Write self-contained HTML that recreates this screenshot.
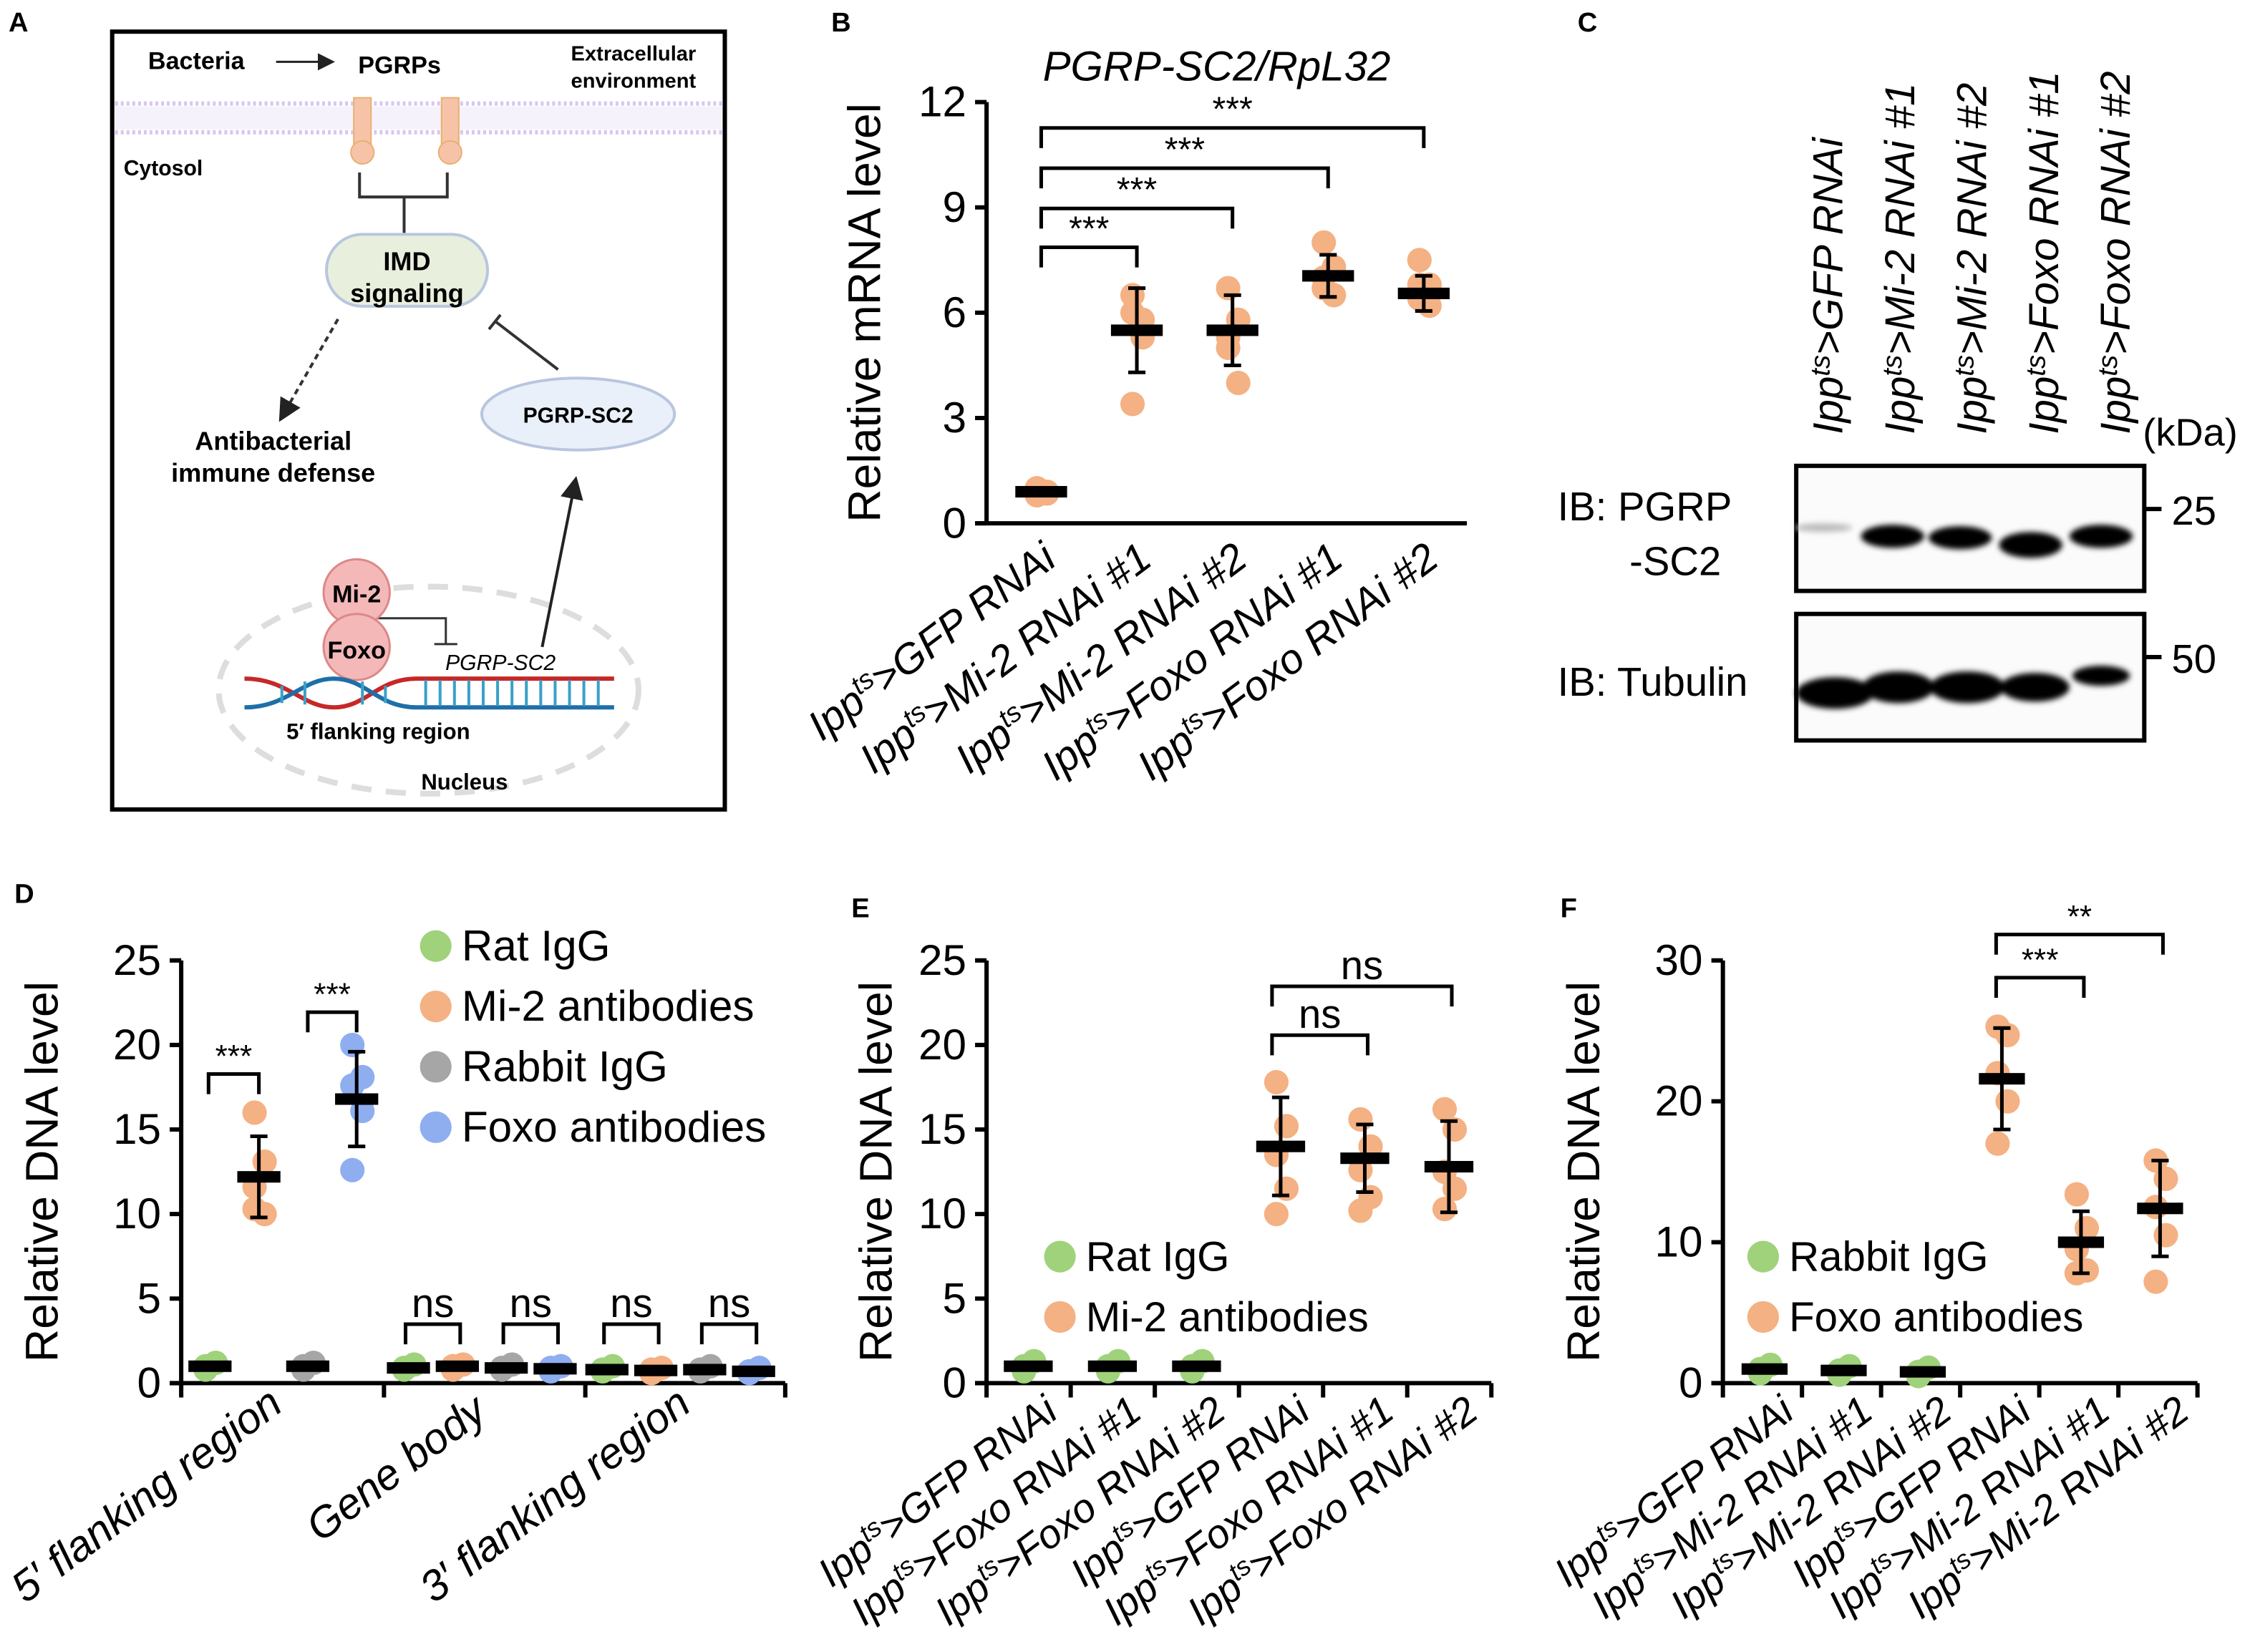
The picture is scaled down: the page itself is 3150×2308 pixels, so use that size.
<!DOCTYPE html>
<html><head><meta charset="utf-8"><style>
html,body{margin:0;padding:0;background:#fff;}
svg{display:block;}
text{font-family:"Liberation Sans",sans-serif;fill:#000;}
.b{font-family:"Liberation Sans",sans-serif;font-weight:bold;}
</style></head><body>
<svg id="fig" width="3150" height="2308" viewBox="0 0 1568 1149" preserveAspectRatio="none" xmlns="http://www.w3.org/2000/svg">
<defs>
<filter id="blur2" x="-20%" y="-50%" width="140%" height="200%"><feGaussianBlur stdDeviation="2"/></filter>
<marker id="arr" markerWidth="8" markerHeight="8" refX="6" refY="4" orient="auto"><path d="M0,0 L8,4 L0,8 z" fill="#222"/></marker>
</defs>

<text class="b" x="6" y="22" font-size="19">A</text>
<text class="b" x="578" y="22" font-size="19">B</text>
<text class="b" x="1097" y="22" font-size="19">C</text>
<text class="b" x="10" y="628" font-size="19">D</text>
<text class="b" x="592" y="638" font-size="19">E</text>
<text class="b" x="1085" y="638" font-size="19">F</text>

<g>
<rect x="78" y="22" width="426" height="541" fill="#fff" stroke="#000" stroke-width="3"/>
<rect x="80" y="74" width="422" height="16" fill="#f6f2fb"/>
<line x1="80" y1="72" x2="502" y2="72" stroke="#d7c8ef" stroke-width="3" stroke-dasharray="2,2"/>
<line x1="80" y1="92" x2="502" y2="92" stroke="#d7c8ef" stroke-width="3" stroke-dasharray="2,2"/>
<text class="b" x="103" y="48" font-size="17">Bacteria</text>
<line x1="192" y1="43" x2="230" y2="43" stroke="#222" stroke-width="1.5" marker-end="url(#arr)"/>
<text class="b" x="249" y="51" font-size="17">PGRPs</text>
<text class="b" x="397" y="42" font-size="14.5">Extracellular</text>
<text class="b" x="397" y="61" font-size="14.5">environment</text>
<text class="b" x="86" y="122" font-size="15">Cytosol</text>
<rect x="246" y="68" width="12" height="32" fill="#f7c3a8" stroke="#e8b070"/>
<circle cx="252" cy="106" r="8" fill="#f7c3a8" stroke="#e8b070"/>
<rect x="307" y="68" width="12" height="32" fill="#f7c3a8" stroke="#e8b070"/>
<circle cx="313" cy="106" r="8" fill="#f7c3a8" stroke="#e8b070"/>
<path d="M250,120 V137 H311 V120 M281,137 V162" fill="none" stroke="#333" stroke-width="2"/>
<rect x="227" y="163" width="112" height="50" rx="25" fill="#e9efdd" stroke="#b8c6de" stroke-width="2"/>
<text class="b" x="283" y="188" font-size="18" text-anchor="middle">IMD</text>
<text class="b" x="283" y="210" font-size="18" text-anchor="middle">signaling</text>
<line x1="235" y1="222" x2="196" y2="290" stroke="#333" stroke-width="2" stroke-dasharray="4,3" marker-end="url(#arr)"/>
<text class="b" x="190" y="313" font-size="18" text-anchor="middle">Antibacterial</text>
<text class="b" x="190" y="335" font-size="18" text-anchor="middle">immune defense</text>
<line x1="388" y1="257" x2="345" y2="224" stroke="#333" stroke-width="2"/>
<line x1="340" y1="229" x2="348" y2="219" stroke="#333" stroke-width="2"/>
<ellipse cx="402" cy="288" rx="67" ry="25" fill="#eaf0fa" stroke="#b8c6de" stroke-width="2"/>
<text class="b" x="402" y="294" font-size="15" text-anchor="middle">PGRP-SC2</text>
<ellipse cx="298" cy="480" rx="146" ry="72" fill="none" stroke="#ddd" stroke-width="4" stroke-dasharray="14,10"/>
<line x1="377" y1="450" x2="400" y2="335" stroke="#222" stroke-width="2" marker-end="url(#arr)"/>
<path d="M250,430 H310 V448 M302,448 H318" fill="none" stroke="#333" stroke-width="1.5"/>
<circle cx="248" cy="412" r="23" fill="#f4b8b8" stroke="#d88" stroke-width="1.5"/>
<text class="b" x="248" y="419" font-size="17" text-anchor="middle">Mi-2</text>
<circle cx="248" cy="450" r="23" fill="#f4b8b8" stroke="#d88" stroke-width="1.5"/>
<text class="b" x="248" y="458" font-size="17" text-anchor="middle">Foxo</text>
<text x="348" y="466" font-size="15" font-style="italic" text-anchor="middle">PGRP-SC2</text>
<path d="M170,472 C200,472 210,492 232,492 C255,492 262,472 290,472 H427" fill="none" stroke="#c62828" stroke-width="3"/>
<path d="M170,492 C200,492 210,472 232,472 C255,472 262,492 290,492 H427" fill="none" stroke="#1e6fa8" stroke-width="3"/>
<g stroke="#3aa0c8" stroke-width="2">
<line x1="296" y1="473" x2="296" y2="491"/><line x1="306" y1="473" x2="306" y2="491"/><line x1="316" y1="473" x2="316" y2="491"/><line x1="326" y1="473" x2="326" y2="491"/><line x1="336" y1="473" x2="336" y2="491"/><line x1="346" y1="473" x2="346" y2="491"/><line x1="356" y1="473" x2="356" y2="491"/><line x1="366" y1="473" x2="366" y2="491"/><line x1="376" y1="473" x2="376" y2="491"/><line x1="386" y1="473" x2="386" y2="491"/><line x1="396" y1="473" x2="396" y2="491"/><line x1="406" y1="473" x2="406" y2="491"/><line x1="416" y1="473" x2="416" y2="491"/><line x1="196" y1="477" x2="196" y2="489"/><line x1="212" y1="474" x2="212" y2="490"/><line x1="252" y1="474" x2="252" y2="490"/><line x1="268" y1="477" x2="268" y2="489"/>
</g>
<text class="b" x="263" y="514" font-size="15.5" text-anchor="middle">5′ flanking region</text>
<text class="b" x="323" y="549" font-size="15.5" text-anchor="middle">Nucleus</text>
</g>

<g>
<g font-style="italic" font-size="29">
<text transform="translate(1281,302) rotate(-90)">Ipp<tspan dy="-9" font-size="19">ts</tspan><tspan dy="9">&gt;GFP RNAi</tspan></text>
<text transform="translate(1331,302) rotate(-90)">Ipp<tspan dy="-9" font-size="19">ts</tspan><tspan dy="9">&gt;Mi-2 RNAi #1</tspan></text>
<text transform="translate(1381,302) rotate(-90)">Ipp<tspan dy="-9" font-size="19">ts</tspan><tspan dy="9">&gt;Mi-2 RNAi #2</tspan></text>
<text transform="translate(1431,302) rotate(-90)">Ipp<tspan dy="-9" font-size="19">ts</tspan><tspan dy="9">&gt;Foxo RNAi #1</tspan></text>
<text transform="translate(1481,302) rotate(-90)">Ipp<tspan dy="-9" font-size="19">ts</tspan><tspan dy="9">&gt;Foxo RNAi #2</tspan></text>
</g>
<text x="1490" y="310" font-size="27">(kDa)</text>
<text x="1083" y="362" font-size="28">IB: PGRP</text>
<text x="1133" y="400" font-size="28">-SC2</text>
<text x="1083" y="484" font-size="28">IB: Tubulin</text>
<rect x="1249" y="324" width="242" height="87" fill="#fbfbfb" stroke="#000" stroke-width="3"/>
<rect x="1249" y="427" width="242" height="88" fill="#fbfbfb" stroke="#000" stroke-width="3"/>
<g filter="url(#blur2)">
<ellipse cx="1268" cy="367" rx="20" ry="3" fill="#bbb"/>
<ellipse cx="1316" cy="373" rx="22" ry="8" fill="#000"/>
<ellipse cx="1363" cy="374" rx="22" ry="8" fill="#000"/>
<ellipse cx="1412" cy="379" rx="22" ry="9" fill="#000"/>
<ellipse cx="1461" cy="373" rx="22" ry="8" fill="#000"/>
<ellipse cx="1276" cy="482" rx="27" ry="11" fill="#000"/>
<ellipse cx="1320" cy="478" rx="25" ry="11" fill="#000"/>
<ellipse cx="1368" cy="478" rx="26" ry="11" fill="#000"/>
<ellipse cx="1415" cy="478" rx="24" ry="10" fill="#000"/>
<ellipse cx="1461" cy="470" rx="20" ry="7" fill="#000"/>
</g>
<line x1="1491" y1="354" x2="1503" y2="354" stroke="#000" stroke-width="3"/>
<line x1="1491" y1="457" x2="1503" y2="457" stroke="#000" stroke-width="3"/>
<text x="1510" y="365" font-size="28">25</text>
<text x="1510" y="468" font-size="28">50</text>
</g>

<g id="charts"></g>
</svg>
<script>
// ===== Panel B data =====
const bCategories = ["GFP RNAi","Mi-2 RNAi #1","Mi-2 RNAi #2","Foxo RNAi #1","Foxo RNAi #2"];
const bMeans = [0.9, 5.5, 5.5, 7.05, 6.55];
const bSD = [0.1, 1.2, 1.0, 0.6, 0.5];
const bPoints = [[0.8,0.9,1.0,0.85,0.95],[6.5,5.3,3.4,5.8,6.0],[6.7,5.8,5.3,4.0,5.0],[8.0,7.3,6.7,6.5,7.0],[7.5,6.8,6.4,6.2,6.8]];
const bTicks = [0,3,6,9,12];
// ===== Panel D data =====
const dRegions = ["5′ flanking region","Gene body","3′ flanking region"];
const dSeries = ["Rat IgG","Mi-2 antibodies","Rabbit IgG","Foxo antibodies"];
const dMeans = [[1.0,12.2,1.0,16.8],[0.9,1.0,0.9,0.85],[0.8,0.75,0.8,0.7]];
const dSD = [[0.1,2.4,0.1,2.8],[0.1,0.1,0.1,0.1],[0.1,0.1,0.1,0.1]];
const dPoints = [[[0.8,1.2,1.0],[16.0,13.1,11.6,10.0,10.3],[0.8,1.2,1.0],[20.0,18.1,17.6,16.1,12.6]],[[0.8,1.1,0.9],[0.8,1.1,1.0],[0.8,1.1,0.9],[0.7,1.0,0.9]],[[0.7,1.0,0.8],[0.6,0.9,0.8],[0.7,1.0,0.8],[0.6,0.9,0.7]]];
const dTicks = [0,5,10,15,20,25];
// ===== Panel E data =====
const eCategories = ["GFP RNAi","Foxo RNAi #1","Foxo RNAi #2","GFP RNAi","Foxo RNAi #1","Foxo RNAi #2"];
const eMeans = [1.0,1.0,1.0,14.0,13.3,12.8];
const eSD = [0.2,0.2,0.2,2.9,2.0,2.7];
const ePoints = [[0.7,1.3,1.0],[0.7,1.3,1.0],[0.7,1.3,1.0],[17.8,15.2,13.5,11.5,10.0],[15.6,14.0,12.6,11.0,10.2],[16.2,15.0,12.5,11.5,10.3]];
const eTicks = [0,5,10,15,20,25];
// ===== Panel F data =====
const fCategories = ["GFP RNAi","Mi-2 RNAi #1","Mi-2 RNAi #2","GFP RNAi","Mi-2 RNAi #1","Mi-2 RNAi #2"];
const fMeans = [1.0,0.9,0.8,21.6,10.0,12.4];
const fSD = [0.2,0.2,0.2,3.6,2.2,3.4];
const fPoints = [[0.7,1.3,1.0],[0.6,1.2,0.9],[0.5,1.1,0.8],[25.3,24.7,22.0,20.0,17.0],[13.4,11.0,9.5,8.0,7.8],[15.8,14.5,12.5,10.5,7.2]];
const fTicks = [0,10,20,30];

const NS = "http://www.w3.org/2000/svg";
const root = document.getElementById('charts');
function mk(tag, attrs, parent){ const e=document.createElementNS(NS,tag); for(const k in attrs) e.setAttribute(k,attrs[k]); (parent||root).appendChild(e); return e; }
const ORANGE="#f4b183", GREEN="#9fd27a", GRAY="#a6a6a6", BLUE="#8eaef0";

function axes(g, x0, x1, y0, yTop, ticks, vmax, title, titleX, fs){
  const ys = v => y0 - (v/vmax)*(y0-yTop);
  mk('line',{x1:x0,y1:y0,x2:x0,y2:yTop,stroke:'#000','stroke-width':3},g);
  mk('line',{x1:x0-8,y1:y0,x2:x1,y2:y0,stroke:'#000','stroke-width':3},g);
  ticks.forEach(t=>{
    mk('line',{x1:x0-8,y1:ys(t),x2:x0,y2:ys(t),stroke:'#000','stroke-width':3},g);
    const tx=mk('text',{x:x0-14,y:ys(t)+10,'font-size':fs,'text-anchor':'end'},g);
    tx.textContent=t;
    
    
  });
  const tt=mk('text',{transform:`translate(${titleX},${(y0+yTop)/2}) rotate(-90)`,'font-size':fs+2,'text-anchor':'middle'},g);
  tt.textContent=title;
  
  
  return ys;
}
function group(g, x, ys, mean, sd, pts, color, hw){
  pts.forEach((p,i)=>{
    const c=mk('circle',{cx:x+((i%2)?4:-3),cy:ys(p),r:8.5,fill:color},g);
    
    
  });
  if(sd>0.3){
    mk('line',{x1:x,y1:ys(mean-sd),x2:x,y2:ys(mean+sd),stroke:'#000','stroke-width':2.5},g);
    mk('line',{x1:x-6,y1:ys(mean+sd),x2:x+6,y2:ys(mean+sd),stroke:'#000','stroke-width':2.5},g);
    mk('line',{x1:x-6,y1:ys(mean-sd),x2:x+6,y2:ys(mean-sd),stroke:'#000','stroke-width':2.5},g);
  }
  const m=mk('rect',{x:x-hw,y:ys(mean)-4,width:2*hw,height:8,fill:'#000'},g);
  
  
}
function bracket(g, xa, xb, y, label, fs){
  mk('path',{d:`M${xa},${y+14} V${y} H${xb} V${y+14}`,fill:'none',stroke:'#000','stroke-width':2.5},g);
  const t=mk('text',{x:(xa+xb)/2,y:y-5,'font-size':fs,'text-anchor':'middle'},g);
  t.textContent=label;
  
  
}
function xlabel(g, x, y, name, fs){
  const t=mk('text',{transform:`translate(${x},${y}) rotate(-37)`,'font-size':fs,'text-anchor':'end','font-style':'italic'},g);
  
  
  t.innerHTML=`Ipp<tspan dy="-10" font-size="${fs*0.65}">ts</tspan><tspan dy="10">&gt;${name}</tspan>`;
}
function legend(g, x, y, color, label, fs){
  const c=mk('circle',{cx:x,cy:y,r:11,fill:color},g);
  
  
  const t=mk('text',{x:x+18,y:y+10,'font-size':fs},g);
  t.textContent=label;
  
  
}

(function(){
  const g=mk('g',{});  
  const ys=axes(g,686,1020,364,71,bTicks,12,'Relative mRNA level',612,30);
  const t=mk('text',{x:846,y:56,'font-size':29,'text-anchor':'middle','font-style':'italic'},g);
  t.textContent='PGRP-SC2/RpL32';
  
  
  const xs=i=>724+i*66.5;
  bCategories.forEach((c,i)=>{ group(g,xs(i),ys,bMeans[i],bSD[i],bPoints[i],ORANGE,18); xlabel(g,xs(i)+12,392,c,29); });
  bracket(g,xs(0),xs(1),172,'***',24);
  bracket(g,xs(0),xs(2),145,'***',24);
  bracket(g,xs(0),xs(3),117,'***',24);
  bracket(g,xs(0),xs(4),89,'***',24);
})();

(function(){
  const g=mk('g',{});  
  const ys=axes(g,126,546,962,668,dTicks,25,'Relative DNA level',40,30);
  [126,267,407,546].forEach(x=>mk('line',{x1:x,y1:962,x2:x,y2:972,stroke:'#000','stroke-width':3},g));
  const cols=[GREEN,ORANGE,GRAY,BLUE];
  const xs=(r,s)=>146+r*138+s*34;
  dRegions.forEach((reg,r)=>{
    dSeries.forEach((s,k)=>group(g,xs(r,k),ys,dMeans[r][k],dSD[r][k],dPoints[r][k],cols[k],15));
    const t=mk('text',{transform:`translate(${r==0?198:(r==1?340:482)},${r==1?985:980}) rotate(-37)`,'font-size':30,'text-anchor':'end','font-style':'italic'},g);
    t.textContent=reg;
    
    
  });
  bracket(g,xs(0,0)-1,xs(0,1),747,'***',22);
  bracket(g,xs(0,2),xs(0,3),704,'***',22);
  [[1,0,1],[1,2,3],[2,0,1],[2,2,3]].forEach(([r,a,b])=>bracket(g,xs(r,a)-2,xs(r,b)+2,921,'ns',28));
  dSeries.forEach((s,k)=>legend(g,303,658+k*42,cols[k],s,30));
})();

(function(){
  const g=mk('g',{});  
  const ys=axes(g,686,1037,962,668,eTicks,25,'Relative DNA level',620,30);
  for(let i=0;i<=6;i++) mk('line',{x1:686+i*58.5,y1:962,x2:686+i*58.5,y2:972,stroke:'#000','stroke-width':3},g);
  const xs=i=>715+i*58.5;
  eCategories.forEach((c,i)=>{ group(g,xs(i),ys,eMeans[i],eSD[i],ePoints[i],i<3?GREEN:ORANGE,17); xlabel(g,xs(i)+22,985,c,28); });
  bracket(g,xs(3)-6,xs(4)+2,720,'ns',28);
  bracket(g,xs(3)-6,xs(5)+2,686,'ns',28);
  legend(g,737,874,GREEN,'Rat IgG',29);
  legend(g,737,916,ORANGE,'Mi-2 antibodies',29);
})();

(function(){
  const g=mk('g',{});  
  const ys=axes(g,1198,1528,962,668,fTicks,30,'Relative DNA level',1112,30);
  for(let i=0;i<=6;i++) mk('line',{x1:1198+i*55,y1:962,x2:1198+i*55,y2:972,stroke:'#000','stroke-width':3},g);
  const xs=i=>1227+i*55;
  fCategories.forEach((c,i)=>{ group(g,xs(i),ys,fMeans[i],fSD[i],fPoints[i],i<3?GREEN:ORANGE,16); xlabel(g,xs(i)+22,985,c,28); });
  bracket(g,xs(3)-4,xs(4)+2,680,'***',22);
  bracket(g,xs(3)-4,xs(5)+2,650,'**',22);
  legend(g,1226,874,GREEN,'Rabbit IgG',29);
  legend(g,1226,916,ORANGE,'Foxo antibodies',29);
})();
</script>
</body></html>
